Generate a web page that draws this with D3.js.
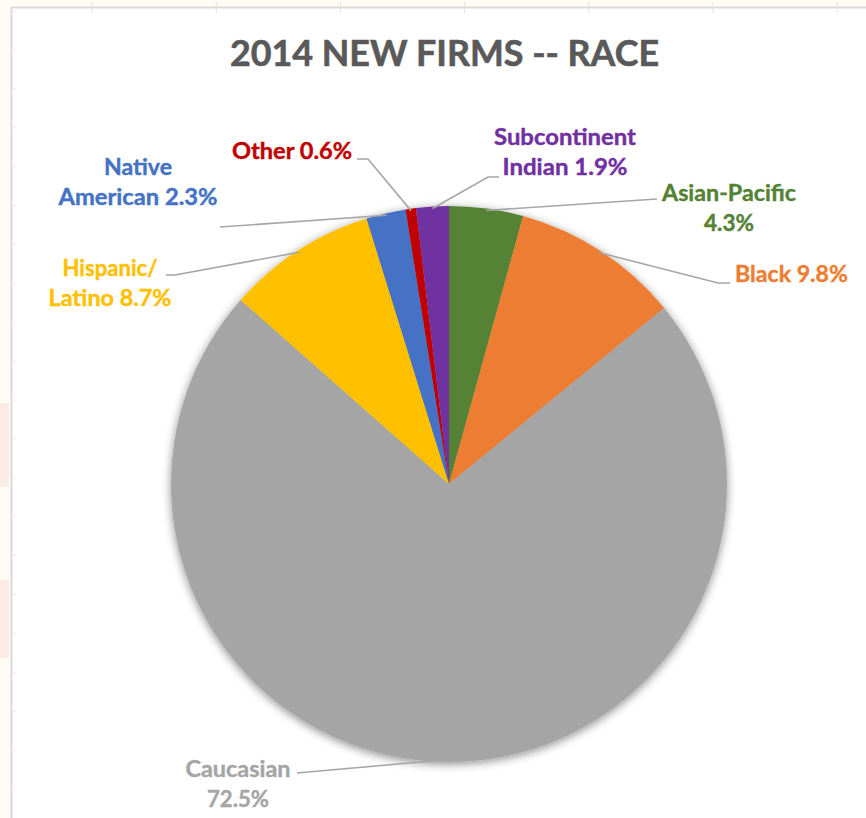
<!DOCTYPE html>
<html>
<head>
<meta charset="utf-8">
<script src="https://cdn.jsdelivr.net/npm/d3@7/dist/d3.min.js"></script>
<style>
  html, body { margin: 0; padding: 0; background: #fffcf5; }
  svg { display: block; }
  text { font-family: Lato, "Open Sans", sans-serif; font-weight: bold; }
</style>
</head>
<body>
<svg id="chart" width="866" height="818"></svg>
<script>
// ---- data ----
const titleText = "2014 NEW FIRMS -- RACE";
const categories = ["Asian-Pacific", "Black", "Caucasian", "Hispanic/Latino", "Native American", "Other", "Subcontinent Indian"];
const values = [4.3, 9.8, 72.5, 8.7, 2.3, 0.6, 1.9];
const labelLines = [
  ["Asian-Pacific", "4.3%"],
  ["Black 9.8%"],
  ["Caucasian", "72.5%"],
  ["Hispanic/", "Latino 8.7%"],
  ["Native", "American 2.3%"],
  ["Other 0.6%"],
  ["Subcontinent", "Indian 1.9%"]
];
const colors = ["#548235", "#ed7d31", "#a5a5a5", "#ffc000", "#4472c4", "#c00000", "#7030a0"];

// ---- layout (positions only) ----
const cx = 449, cy = 484, R = 278;
const labelLayout = [
  { x: 729, y: 201, w: [134, 50], leader: [[657, 199]] },
  { x: 791.5, y: 282, w: [113], leader: [[730, 283], [718, 283]] },
  { x: 238, y: 777, w: [105, 62], leader: [[297, 773]] },
  { x: 110, y: 276, w: [95, 123], leader: [[166, 275], [175, 275]] },
  { x: 138, y: 175, w: [68, 159], leader: [[220, 227]] },
  { x: 292, y: 159, w: [120], leader: [[357, 159], [368, 159]] },
  { x: 565, y: 145, w: [142, 125], leader: [[499, 177], [488, 177]] }
];
const lineGap = 29.5;

const svg = d3.select("#chart");
const defs = svg.append("defs");
const f = defs.append("filter").attr("id", "shadow")
  .attr("x", "-10%").attr("y", "-10%").attr("width", "120%").attr("height", "120%");
f.append("feDropShadow").attr("dx", 0).attr("dy", 2).attr("stdDeviation", 5)
  .attr("flood-color", "#000").attr("flood-opacity", 0.45);

// background decoration (spreadsheet behind chart)
svg.append("rect").attr("x", 0).attr("y", 403).attr("width", 9).attr("height", 84).attr("fill", "#fbece3");
svg.append("rect").attr("x", 0).attr("y", 580).attr("width", 9).attr("height", 78).attr("fill", "#fbece3");
svg.append("rect").attr("x", 11).attr("y", 7).attr("width", 866).attr("height", 830)
  .attr("fill", "#ffffff");
svg.append("line").attr("x1", 11).attr("x2", 866).attr("y1", 7.5).attr("y2", 7.5)
  .attr("stroke", "#dadada").attr("stroke-width", 2);
svg.append("line").attr("x1", 11.5).attr("x2", 11.5).attr("y1", 7).attr("y2", 818)
  .attr("stroke", "#dadada").attr("stroke-width", 2);
const topTicks = d3.range(92, 866, 124.2);
svg.selectAll("line.tt").data(topTicks).join("line").attr("class", "tt")
  .attr("x1", d => d).attr("x2", d => d).attr("y1", 2).attr("y2", 13)
  .attr("stroke", "#e2e2e2").attr("stroke-width", 1);
const leftTicks = d3.range(11, 818, 38.9);
svg.selectAll("line.lt").data(leftTicks).join("line").attr("class", "lt")
  .attr("x1", 12).attr("x2", 16).attr("y1", d => d).attr("y2", d => d)
  .attr("stroke", "#ececec").attr("stroke-width", 1);

// title
svg.append("text").attr("x", 444.5).attr("y", 66).attr("text-anchor", "middle")
  .attr("font-size", 36).attr("fill", "#595959")
  .attr("stroke", "#595959").attr("stroke-width", 0.6)
  .attr("textLength", 429).attr("lengthAdjust", "spacingAndGlyphs")
  .text(titleText);

// pie
const data = categories.map((c, i) => ({ cat: c, value: values[i], i }));
const pie = d3.pie().sort(null).value(d => d.value).startAngle(0).endAngle(2 * Math.PI);
const arcs = pie(data);
const arc = d3.arc().innerRadius(0).outerRadius(R);
const edge = d3.arc().innerRadius(R - 2).outerRadius(R - 2);

const g = svg.append("g").attr("transform", `translate(${cx},${cy})`);
g.append("g").attr("filter", "url(#shadow)")
  .selectAll("path").data(arcs).join("path")
  .attr("d", arc).attr("fill", d => colors[d.data.i]);

// leader lines
const leaders = svg.append("g");
arcs.forEach(d => {
  const lay = labelLayout[d.data.i];
  const c = edge.centroid(d);
  const pts = lay.leader.concat([[cx + c[0], cy + c[1]]]);
  leaders.append("path")
    .attr("d", d3.line()(pts))
    .attr("fill", "none").attr("stroke", "#a6a6a6").attr("stroke-width", 1.6);
});

// labels
const labels = svg.append("g");
arcs.forEach(d => {
  const i = d.data.i;
  const lay = labelLayout[i];
  labelLines[i].forEach((ln, k) => {
    labels.append("text")
      .attr("x", lay.x).attr("y", lay.y + k * lineGap)
      .attr("text-anchor", "middle").attr("font-size", 23)
      .attr("fill", colors[i])
      .attr("stroke", colors[i]).attr("stroke-width", 0.4)
      .attr("textLength", lay.w[k]).attr("lengthAdjust", "spacingAndGlyphs")
      .text(ln);
  });
});
</script>
</body>
</html>
